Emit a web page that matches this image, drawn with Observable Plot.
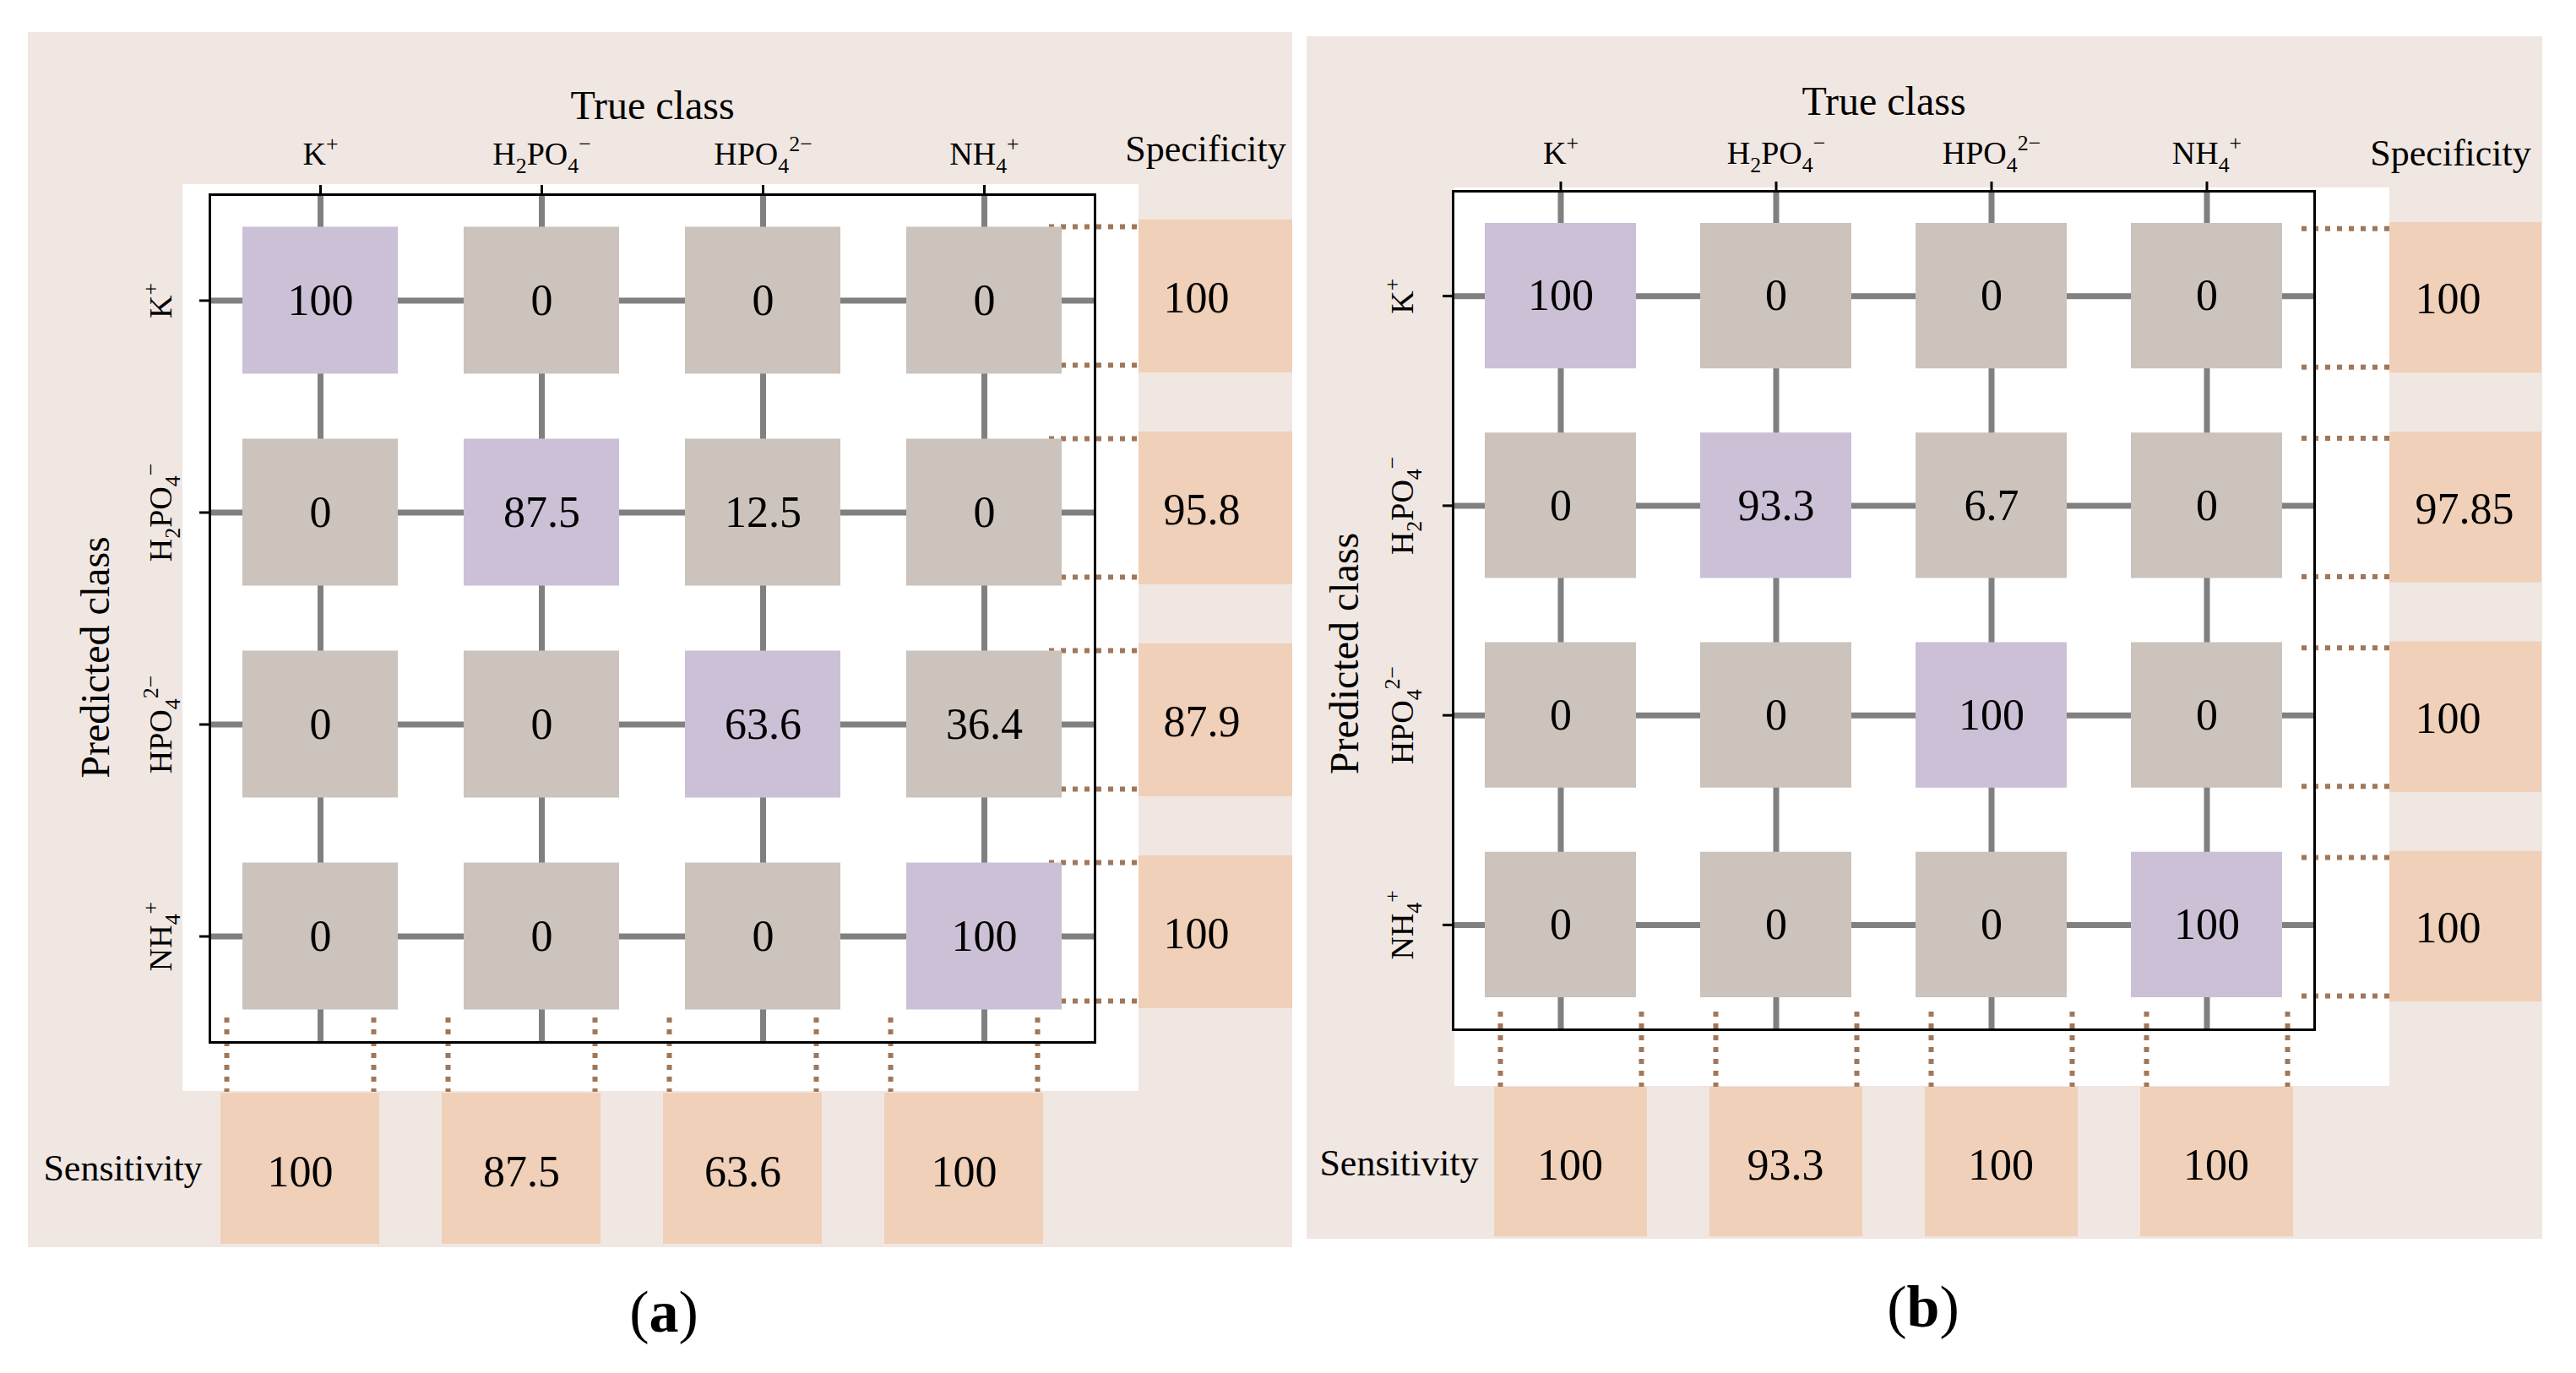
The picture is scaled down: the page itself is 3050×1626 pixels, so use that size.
<!DOCTYPE html>
<html><head><meta charset="utf-8">
<script src="https://cdn.jsdelivr.net/npm/d3@7"></script>
<script src="https://cdn.jsdelivr.net/npm/@observablehq/plot@0.6"></script>
<style>
html,body{margin:0;padding:0;background:#fff;}
#page{position:relative;width:3050px;height:1626px;overflow:hidden;font-family:'Liberation Serif','Times New Roman',serif;}
.bg{position:absolute;background:#f0e7e2;}
.white{position:absolute;background:#ffffff;}
.caption{position:absolute;font-size:70px;transform:translate(-50%,-50%);white-space:nowrap;color:#000;}
svg.panel, svg.panel text{font-family:'Liberation Serif','Times New Roman',serif !important;}
</style></head><body><div id="page"></div>
<script>
// ---- data ----
const classes = ["K^+", "H_2PO_4^\u2212", "HPO_4^2\u2212", "NH_4^+"];
const matrixA = [
  [100, 0, 0, 0],
  [0, 87.5, 12.5, 0],
  [0, 0, 63.6, 36.4],
  [0, 0, 0, 100]
];
const specificityA = [100, 95.8, 87.9, 100];
const sensitivityA = [100, 87.5, 63.6, 100];
const matrixB = [
  [100, 0, 0, 0],
  [0, 93.3, 6.7, 0],
  [0, 0, 100, 0],
  [0, 0, 0, 100]
];
const specificityB = [100, 97.85, 100, 100];
const sensitivityB = [100, 93.3, 100, 100];
const xTitle = "True class";
const yTitle = "Predicted class";
const specLabel = "Specificity";
const sensLabel = "Sensitivity";

// ---- styles ----
const serif = "Liberation Serif, Times New Roman, serif";
const colDiag = "#cbc0d6", colOff = "#cbc3bc", colPeach = "#f0d0b8", colGrid = "#808080", colDot = "#a0775a";

const layoutA = {
  left: 0, width: 1540, height: 1500,
  frame: [248, 1296, 230, 1234],
  cellInset: [39, 38.5],
  specBox: {left: 52, right: 28, top: 30, bottom: 40},
  specText: {dx: -50, dy: -3},
  specHead: {dx: 0, dy: -54},
  specLines: {dys: [-87.5, 76.5], insetLeft: 994, insetRight: -52},
  sensBox: {left: 13, right: 61, top: 60, bottom: 12},
  sensText: {dx: -24, dy: 28},
  sensHead: {dx: -103, dy: 24},
  sensLines: {dxs: [-111, 63], insetTop: 975, insetBottom: -59},
  colLabelDy: -48, titleDy: -105, rowLabelDx: -58, yTitle: {dx: -135, dy: 46}
};
const layoutB = {
  left: 1540, width: 1510, height: 1500,
  frame: [180, 1200, 226, 1219],
  cellInset: [38, 38],
  specBox: {left: 89, right: -14, top: 37, bottom: 33},
  specText: {dx: -8.5, dy: 4},
  specHead: {dx: 33.5, dy: -45},
  specLines: {dys: [-80, 84], insetLeft: 1005, insetRight: -89},
  sensBox: {left: 49, right: 25, top: 68, bottom: 3},
  sensText: {dx: 11, dy: 37},
  sensHead: {dx: -64, dy: 34},
  sensLines: {dxs: [-71.5, 95.5], insetTop: 972, insetBottom: -68},
  colLabelDy: -45, titleDy: -106, rowLabelDx: -60, yTitle: {dx: -128, dy: 51}
};

function chem(svg) {
  svg.querySelectorAll("text").forEach(t => {
    const s = t.textContent;
    if (!/[_^]/.test(s)) return;
    const g = t.closest("g");
    const size = parseFloat(g && g.getAttribute("font-size")) || 38;
    t.textContent = "";
    const re = /_([0-9]+)|\^([0-9]*[+\u2212-])|([^_^]+)/g;
    let m, shift = 0;
    while ((m = re.exec(s))) {
      const ts = document.createElementNS("http://www.w3.org/2000/svg", "tspan");
      let target = 0, txt, small = false;
      if (m[1]) { target = 0.28 * size; txt = m[1]; small = true; }
      else if (m[2]) { target = -0.42 * size; txt = m[2]; small = true; }
      else { txt = m[3]; }
      const d = target - shift;
      if (d) ts.setAttribute("dy", d);
      if (small) ts.setAttribute("font-size", size * 0.68);
      ts.textContent = txt;
      t.appendChild(ts);
      shift = target;
    }
  });
}

function panel(L, matrix, spec, sens) {
  const cells = [];
  matrix.forEach((row, i) => row.forEach((v, j) =>
    cells.push({pred: classes[i], truth: classes[j], value: v, diag: i === j})));
  const specData = classes.map((c, i) => ({pred: c, value: spec[i]}));
  const sensData = classes.map((c, i) => ({truth: c, value: sens[i]}));
  const [fx0, fx1, fy0, fy1] = L.frame;
  const colStep = (fx1 - fx0) / 4, rowStep = (fy1 - fy0) / 4;
  const [cix, ciy] = L.cellInset;
  const dotted = {stroke: colDot, strokeWidth: 6, strokeDasharray: "6 8"};
  const txt = {fill: "#000", fontFamily: serif, lineAnchor: "middle", textAnchor: "middle"};
  const svg = Plot.plot({
    width: L.width, height: L.height,
    marginLeft: fx0, marginRight: L.width - fx1, marginTop: fy0, marginBottom: L.height - fy1,
    style: {background: "none", overflow: "visible"},
    x: {type: "band", domain: [...classes, specLabel], range: [fx0, fx0 + 5 * colStep], padding: 0, round: false, axis: null},
    y: {type: "band", domain: [...classes, sensLabel], range: [fy0, fy0 + 5 * rowStep], padding: 0, round: false, axis: null},
    marks: [
      Plot.ruleY(classes, {y: d => d, stroke: colGrid, strokeWidth: 7}),
      Plot.ruleX(classes, {x: d => d, stroke: colGrid, strokeWidth: 7}),
      ...L.specLines.dys.map(dy => Plot.ruleY(classes, {y: d => d, dy, insetLeft: L.specLines.insetLeft, insetRight: L.specLines.insetRight, ...dotted})),
      ...L.sensLines.dxs.map(dx => Plot.ruleX(classes, {x: d => d, dx, insetTop: L.sensLines.insetTop, insetBottom: L.sensLines.insetBottom, ...dotted})),
      Plot.cell(cells.filter(d => !d.diag), {x: "truth", y: "pred", fill: colOff, insetLeft: cix, insetRight: cix, insetTop: ciy, insetBottom: ciy}),
      Plot.cell(cells.filter(d => d.diag), {x: "truth", y: "pred", fill: colDiag, insetLeft: cix, insetRight: cix, insetTop: ciy, insetBottom: ciy}),
      Plot.text(cells, {x: "truth", y: "pred", text: d => String(d.value), fontSize: 52, ...txt}),
      Plot.cell(specData, {x: () => specLabel, y: "pred", fill: colPeach, insetLeft: L.specBox.left, insetRight: L.specBox.right, insetTop: L.specBox.top, insetBottom: L.specBox.bottom}),
      Plot.text(specData, {x: () => specLabel, y: "pred", text: d => String(d.value), dx: L.specText.dx, dy: L.specText.dy, fontSize: 52, ...txt, textAnchor: "start"}),
      Plot.cell(sensData, {x: "truth", y: () => sensLabel, fill: colPeach, insetLeft: L.sensBox.left, insetRight: L.sensBox.right, insetTop: L.sensBox.top, insetBottom: L.sensBox.bottom}),
      Plot.text(sensData, {x: "truth", y: () => sensLabel, text: d => String(d.value), dx: L.sensText.dx, dy: L.sensText.dy, fontSize: 52, ...txt}),
      Plot.frame({stroke: "#000", strokeWidth: 3}),
      Plot.axisX({ticks: classes, anchor: "top", tickSize: 12, strokeWidth: 3, tickFormat: () => "", label: null}),
      Plot.axisY({ticks: classes, anchor: "left", tickSize: 12, strokeWidth: 3, tickFormat: () => "", label: null}),
      Plot.text(classes, {x: d => d, text: d => d, frameAnchor: "top", dy: L.colLabelDy, fontSize: 38, ...txt}),
      Plot.text(classes, {y: d => d, text: d => d, frameAnchor: "left", dx: L.rowLabelDx, rotate: -90, fontSize: 38, ...txt}),
      Plot.text([specLabel], {x: d => d, text: d => d, frameAnchor: "top", dx: L.specHead.dx, dy: L.specHead.dy, fontSize: 44, ...txt}),
      Plot.text([sensLabel], {y: d => d, text: d => d, frameAnchor: "left", dx: L.sensHead.dx, dy: L.sensHead.dy, fontSize: 44, ...txt}),
      Plot.text([xTitle], {text: d => d, frameAnchor: "top", dy: L.titleDy, fontSize: 48, ...txt}),
      Plot.text([yTitle], {text: d => d, frameAnchor: "left", rotate: -90, dx: L.yTitle.dx, dy: L.yTitle.dy, fontSize: 48, ...txt})
    ]
  });
  chem(svg);
  svg.classList.add("panel");
  svg.setAttribute("font-family", serif);
  Object.assign(svg.style, {position: "absolute", left: L.left + "px", top: "0px", maxWidth: "none", fontFamily: serif});
  return svg;
}

const page = document.getElementById("page");
function box(cls, l, t, w, h) {
  const d = document.createElement("div");
  d.className = cls;
  Object.assign(d.style, {left: l + "px", top: t + "px", width: w + "px", height: h + "px"});
  page.appendChild(d);
}
box("bg", 33, 38, 1497, 1439);
box("white", 216, 218, 1132, 1074);
box("bg", 1547, 43, 1463, 1424);
box("white", 1722, 222, 1107, 1064);
page.appendChild(panel(layoutA, matrixA, specificityA, sensitivityA));
page.appendChild(panel(layoutB, matrixB, specificityB, sensitivityB));
function caption(letter, x, y) {
  const d = document.createElement("div");
  d.className = "caption";
  d.style.left = x + "px"; d.style.top = y + "px";
  d.innerHTML = "(<b>" + letter + "</b>)";
  page.appendChild(d);
}
caption("a", 786, 1554);
caption("b", 2277, 1548);
</script></body></html>
